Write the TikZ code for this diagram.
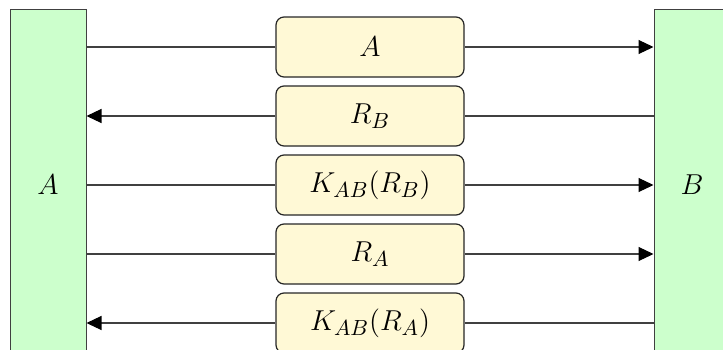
\documentclass[tikz,border=0pt]{standalone}
\usepackage{amsmath,amssymb}
\usepackage{xcolor}
\definecolor{authparty}{HTML}{CCFFCC}
\definecolor{authmsg}{HTML}{FFF9D6}
\usetikzlibrary{arrows.meta,positioning,calc}
\tikzset{
  authparty/.style={draw=black!75,line width=0.5pt,fill=authparty,minimum width=38pt,minimum height=176pt,inner sep=0pt,font=\fontsize{15}{18}\selectfont},
  authmsg/.style={draw=black!85,line width=0.6pt,rounded corners=4pt,fill=authmsg,minimum width=94pt,minimum height=30pt,inner sep=0pt,font=\fontsize{15}{18}\selectfont},
  authline/.style={draw=black!75,line width=0.55pt},
  authflow/.style={authline,-{Triangle[length=7.5pt,width=7pt,color=black]}},
}

\begin{document}
\begin{tikzpicture}[x=0.5pt,y=-0.5pt]
\useasboundingbox (0,0) rectangle (723,349);
\node[authparty](pa) at (48,185){$A$};
\node[authparty](pb) at (692,185){$B$};
\node[authmsg](m1) at (370,47){$A$};
\node[authmsg](m2) at (370,116){$R_B$};
\node[authmsg](m3) at (370,185){$K_{AB}(R_B)$};
\node[authmsg](m4) at (370,254){$R_A$};
\node[authmsg](m5) at (370,323){$K_{AB}(R_A)$};
% A -> B
\draw[authline](pa.east |- m1)--(m1.west);
\draw[authflow](m1.east)--(pb.west |- m1);
% B -> A
\draw[authflow](m2.west)--(pa.east |- m2);
\draw[authline](pb.west |- m2)--(m2.east);
% A -> B
\draw[authline](pa.east |- m3)--(m3.west);
\draw[authflow](m3.east)--(pb.west |- m3);
\draw[authline](pa.east |- m4)--(m4.west);
\draw[authflow](m4.east)--(pb.west |- m4);
% B -> A
\draw[authflow](m5.west)--(pa.east |- m5);
\draw[authline](pb.west |- m5)--(m5.east);
\end{tikzpicture}
\end{document}
